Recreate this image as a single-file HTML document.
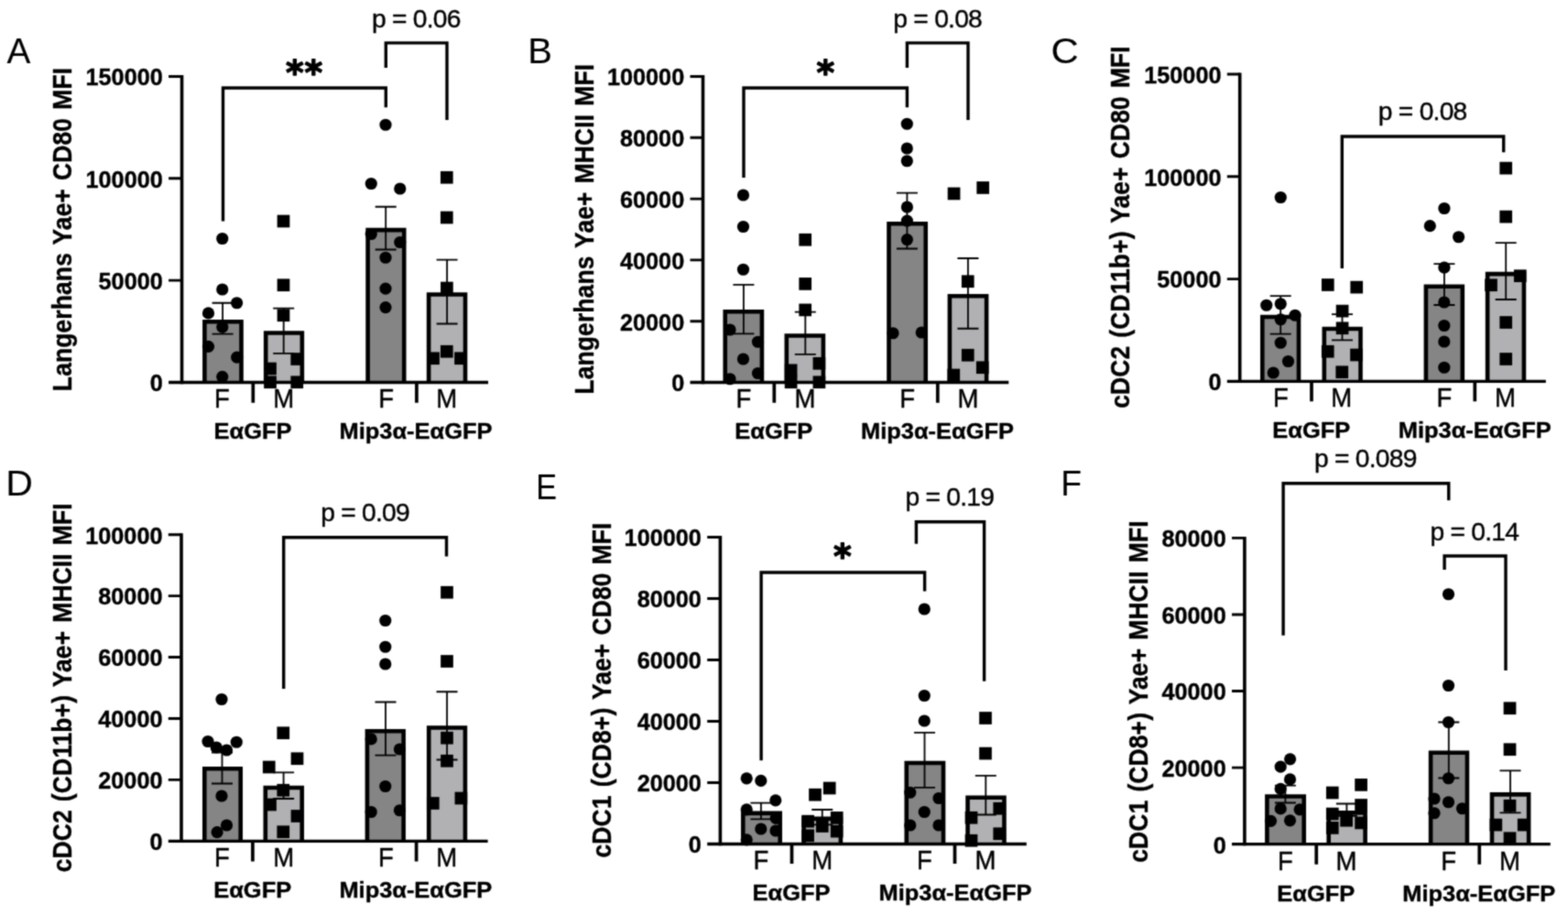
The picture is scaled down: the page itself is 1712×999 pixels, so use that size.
<!DOCTYPE html>
<html lang="en">
<head>
<meta charset="utf-8">
<title>Figure</title>
<style>
html,body{margin:0;padding:0;background:#fff;}
body{width:1712px;height:999px;overflow:hidden;}
svg{display:block;font-family:"Liberation Sans", Arial, Helvetica, sans-serif;fill:#000;}
text{stroke:#000;stroke-width:0.4px;stroke-linejoin:round;}
</style>
</head>
<body>
<svg width="1712" height="999" viewBox="0 0 1712 999">
<defs><filter id="soft" x="0" y="0" width="1712" height="999" filterUnits="userSpaceOnUse" color-interpolation-filters="sRGB"><feConvolveMatrix order="3" kernelMatrix="0.115 0.339 0.115 0.339 1 0.339 0.115 0.339 0.115" divisor="2.816" edgeMode="duplicate" preserveAlpha="true"/></filter></defs>
<g filter="url(#soft)">
<rect x="0" y="0" width="1712" height="999" fill="#fff"/>
<g>
<path d="M223.4 417.5V351.2H263.5V417.5" fill="#858585" stroke="#000" stroke-width="4.6" stroke-linejoin="miter"/>
<path d="M290.2 417.5V363.55H329.85V417.5" fill="#b1b1b3" stroke="#000" stroke-width="4.6" stroke-linejoin="miter"/>
<path d="M401.6 417.5V251.1H441.2V417.5" fill="#858585" stroke="#000" stroke-width="4.6" stroke-linejoin="miter"/>
<path d="M468.1 417.5V321.5H508V417.5" fill="#b1b1b3" stroke="#000" stroke-width="4.6" stroke-linejoin="miter"/>
<path d="M198.55 82V419.15" fill="none" stroke="#000" stroke-width="3.6"/>
<path d="M184.1 417.5H533" fill="none" stroke="#000" stroke-width="3.3"/>
<path d="M184.1 83.45H198.55M184.1 194.8H198.55M184.1 306.15H198.55" fill="none" stroke="#000" stroke-width="2.9"/>
<path d="M276.3 417.5V439.8M454.9 417.5V439.8" fill="none" stroke="#000" stroke-width="3.7"/>
<path d="M243.1 330.75V364.65M231.6 330.75H254.6M231.6 364.65H254.6M309.7 336.7V385.8M298.2 336.7H321.2M298.2 385.8H321.2M421.2 225.75V272.5M409.7 225.75H432.7M409.7 272.5H432.7M488.1 283.6V353.5M476.6 283.6H499.6M476.6 353.5H499.6" fill="none" stroke="#000" stroke-width="1.8"/>
<circle cx="242.75" cy="260.5" r="6.6"/>
<circle cx="242.75" cy="316" r="6.6"/>
<circle cx="258.6" cy="330.75" r="6.6"/>
<circle cx="227.5" cy="341.9" r="6.6"/>
<circle cx="242.8" cy="357.1" r="6.6"/>
<circle cx="227.5" cy="378.3" r="6.6"/>
<circle cx="258.7" cy="390.2" r="6.6"/>
<circle cx="242.75" cy="411.3" r="6.6"/>
<circle cx="421" cy="136.25" r="6.6"/>
<circle cx="405.25" cy="200.5" r="6.6"/>
<circle cx="436.75" cy="206" r="6.6"/>
<circle cx="405.25" cy="255.5" r="6.6"/>
<circle cx="436.75" cy="264.5" r="6.6"/>
<circle cx="421" cy="281.25" r="6.6"/>
<circle cx="421" cy="315.1" r="6.6"/>
<circle cx="421" cy="335.6" r="6.6"/>
<rect x="302.65" y="234.65" width="13.7" height="13.7"/>
<rect x="302.65" y="304.4" width="13.7" height="13.7"/>
<rect x="302.65" y="337.4" width="13.7" height="13.7"/>
<rect x="317.4" y="385.15" width="13.7" height="13.7"/>
<rect x="288.15" y="395.65" width="13.7" height="13.7"/>
<rect x="288.15" y="410.4" width="13.7" height="13.7"/>
<rect x="317.4" y="410.4" width="13.7" height="13.7"/>
<rect x="480.95" y="186.9" width="13.7" height="13.7"/>
<rect x="480.95" y="230.65" width="13.7" height="13.7"/>
<rect x="481.05" y="307.65" width="13.7" height="13.7"/>
<rect x="480.95" y="376.9" width="13.7" height="13.7"/>
<rect x="466.15" y="384.4" width="13.7" height="13.7"/>
<rect x="496.15" y="384.4" width="13.7" height="13.7"/>
<path d="M243.5 241.5V95.95H421.3V117.2M421.3 74V46.85H488V131" fill="none" stroke="#000" stroke-width="3.4" stroke-linejoin="miter"/>
<text transform="translate(177.8 93.25) scale(0.95 1)" text-anchor="end" font-weight="bold" font-size="26.6" letter-spacing="0.0">150000</text>
<text transform="translate(177.8 204.6) scale(0.95 1)" text-anchor="end" font-weight="bold" font-size="26.6" letter-spacing="0.0">100000</text>
<text transform="translate(177.8 315.95) scale(0.95 1)" text-anchor="end" font-weight="bold" font-size="26.6" letter-spacing="0.0">50000</text>
<text transform="translate(177.8 427.3) scale(0.95 1)" text-anchor="end" font-weight="bold" font-size="26.6" letter-spacing="0.0">0</text>
<text transform="translate(77.5 250.5) rotate(-90) scale(0.875 1)" text-anchor="middle" font-weight="bold" font-size="30.2" letter-spacing="0.16" word-spacing="1.8">Langerhans Yae+ CD80 MFI</text>
<text transform="translate(242.3 445.4) scale(0.94 1)" text-anchor="middle" font-size="29.3">F</text>
<text transform="translate(309.7 445.4) scale(0.94 1)" text-anchor="middle" font-size="29.3">M</text>
<text transform="translate(421.6 445.4) scale(0.94 1)" text-anchor="middle" font-size="29.3">F</text>
<text transform="translate(487.6 445.4) scale(0.94 1)" text-anchor="middle" font-size="29.3">M</text>
<text transform="translate(276 479.1) scale(1.042 1)" text-anchor="middle" font-weight="bold" font-size="24.4" letter-spacing="0.0">EαGFP</text>
<text transform="translate(454 479.1) scale(1.042 1)" text-anchor="middle" font-weight="bold" font-size="24.4" letter-spacing="0.0">Mip3α-EαGFP</text>
<text x="332.6" y="92" text-anchor="middle" font-family="DejaVu Sans, Liberation Sans, sans-serif" font-weight="bold" font-size="37.6" style="stroke-width:1.3px" letter-spacing="0.9">**</text>
<text x="454.35" y="29.9" text-anchor="middle" font-size="28.2" letter-spacing="-0.75">p = 0.06</text>
<text transform="translate(7.5 68.85) scale(1.02 1)" x="-0" y="0" font-size="38" style="stroke-width:0.1px">A</text>
</g>
<g>
<path d="M791.75 417.5V340.3H831.9V417.5" fill="#858585" stroke="#000" stroke-width="4.6" stroke-linejoin="miter"/>
<path d="M858.8 417.5V366.5H898.9V417.5" fill="#b1b1b3" stroke="#000" stroke-width="4.6" stroke-linejoin="miter"/>
<path d="M970.5 417.5V244.3H1010.7V417.5" fill="#858585" stroke="#000" stroke-width="4.6" stroke-linejoin="miter"/>
<path d="M1036.9 417.5V323.3H1077.1V417.5" fill="#b1b1b3" stroke="#000" stroke-width="4.6" stroke-linejoin="miter"/>
<path d="M767.5 82.05V419.15" fill="none" stroke="#000" stroke-width="3.6"/>
<path d="M753.5 417.5H1101.3" fill="none" stroke="#000" stroke-width="3.3"/>
<path d="M753.5 83.5H767.5M753.5 150.3H767.5M753.5 217.1H767.5M753.5 283.9H767.5M753.5 350.7H767.5" fill="none" stroke="#000" stroke-width="2.9"/>
<path d="M845.3 417.5V439.8M1023.8 417.5V439.8" fill="none" stroke="#000" stroke-width="3.7"/>
<path d="M811.9 310.8V364.4M800.4 310.8H823.4M800.4 364.4H823.4M879.3 340.6V386.9M867.8 340.6H890.8M867.8 386.9H890.8M990.4 210.65V271.5M978.9 210.65H1001.9M978.9 271.5H1001.9M1056.9 282V358.75M1045.4 282H1068.4M1045.4 358.75H1068.4" fill="none" stroke="#000" stroke-width="1.8"/>
<circle cx="811.5" cy="213" r="6.6"/>
<circle cx="811.5" cy="247.5" r="6.6"/>
<circle cx="811.5" cy="294.25" r="6.6"/>
<circle cx="797" cy="360" r="6.6"/>
<circle cx="827.5" cy="373.25" r="6.6"/>
<circle cx="811.5" cy="392" r="6.6"/>
<circle cx="827.5" cy="407.5" r="6.6"/>
<circle cx="797" cy="413.75" r="6.6"/>
<circle cx="990.3" cy="135.25" r="6.6"/>
<circle cx="990.3" cy="162" r="6.6"/>
<circle cx="990.3" cy="175.75" r="6.6"/>
<circle cx="990.4" cy="226" r="6.6"/>
<circle cx="990.4" cy="241.1" r="6.6"/>
<circle cx="990.4" cy="261.6" r="6.6"/>
<circle cx="975" cy="363.75" r="6.6"/>
<circle cx="1006.25" cy="363" r="6.6"/>
<rect x="872.35" y="254.9" width="13.7" height="13.7"/>
<rect x="872.35" y="303.05" width="13.7" height="13.7"/>
<rect x="872.35" y="331.55" width="13.7" height="13.7"/>
<rect x="887.55" y="389.95" width="13.7" height="13.7"/>
<rect x="856.75" y="397.45" width="13.7" height="13.7"/>
<rect x="856.75" y="410.4" width="13.7" height="13.7"/>
<rect x="887.55" y="410.4" width="13.7" height="13.7"/>
<rect x="1034.7" y="204.55" width="13.7" height="13.7"/>
<rect x="1066.35" y="198.1" width="13.7" height="13.7"/>
<rect x="1049.9" y="300.4" width="13.7" height="13.7"/>
<rect x="1049.9" y="380.9" width="13.7" height="13.7"/>
<rect x="1065.9" y="394.4" width="13.7" height="13.7"/>
<rect x="1034.4" y="402.65" width="13.7" height="13.7"/>
<path d="M812 194V96H990.4V117.2M990.4 74V46.85H1057V131" fill="none" stroke="#000" stroke-width="3.4" stroke-linejoin="miter"/>
<text transform="translate(747.2 93.3) scale(0.95 1)" text-anchor="end" font-weight="bold" font-size="26.6" letter-spacing="0.0">100000</text>
<text transform="translate(747.2 160.1) scale(0.95 1)" text-anchor="end" font-weight="bold" font-size="26.6" letter-spacing="0.0">80000</text>
<text transform="translate(747.2 226.9) scale(0.95 1)" text-anchor="end" font-weight="bold" font-size="26.6" letter-spacing="0.0">60000</text>
<text transform="translate(747.2 293.7) scale(0.95 1)" text-anchor="end" font-weight="bold" font-size="26.6" letter-spacing="0.0">40000</text>
<text transform="translate(747.2 360.5) scale(0.95 1)" text-anchor="end" font-weight="bold" font-size="26.6" letter-spacing="0.0">20000</text>
<text transform="translate(747.2 427.3) scale(0.95 1)" text-anchor="end" font-weight="bold" font-size="26.6" letter-spacing="0.0">0</text>
<text transform="translate(647.5 250.2) rotate(-90) scale(0.875 1)" text-anchor="middle" font-weight="bold" font-size="30.2" letter-spacing="0.16" word-spacing="1.8">Langerhans Yae+ MHCII MFI</text>
<text transform="translate(812 445.4) scale(0.94 1)" text-anchor="middle" font-size="29.3">F</text>
<text transform="translate(878.9 445.4) scale(0.94 1)" text-anchor="middle" font-size="29.3">M</text>
<text transform="translate(990.6 445.4) scale(0.94 1)" text-anchor="middle" font-size="29.3">F</text>
<text transform="translate(1056.9 445.4) scale(0.94 1)" text-anchor="middle" font-size="29.3">M</text>
<text transform="translate(844.75 479.1) scale(1.042 1)" text-anchor="middle" font-weight="bold" font-size="24.4" letter-spacing="0.0">EαGFP</text>
<text transform="translate(1023.5 479.1) scale(1.042 1)" text-anchor="middle" font-weight="bold" font-size="24.4" letter-spacing="0.0">Mip3α-EαGFP</text>
<text x="901.7" y="91.6" text-anchor="middle" font-family="DejaVu Sans, Liberation Sans, sans-serif" font-weight="bold" font-size="37.6" style="stroke-width:1.3px" letter-spacing="0.9">*</text>
<text x="1023.7" y="29.9" text-anchor="middle" font-size="28.2" letter-spacing="-0.75">p = 0.08</text>
<text transform="translate(579.25 68.6) scale(1.05 1)" x="-2.9" y="0" font-size="38" style="stroke-width:0.1px">B</text>
</g>
<g>
<path d="M1378.3 416.45V346.05H1418V416.45" fill="#858585" stroke="#000" stroke-width="4.6" stroke-linejoin="miter"/>
<path d="M1445.8 416.45V359.05H1485.5V416.45" fill="#b1b1b3" stroke="#000" stroke-width="4.6" stroke-linejoin="miter"/>
<path d="M1556.9 416.45V312.8H1596.8V416.45" fill="#858585" stroke="#000" stroke-width="4.6" stroke-linejoin="miter"/>
<path d="M1624.1 416.45V299.1H1663.9V416.45" fill="#b1b1b3" stroke="#000" stroke-width="4.6" stroke-linejoin="miter"/>
<path d="M1353.7 79.5V418.1" fill="none" stroke="#000" stroke-width="3.6"/>
<path d="M1339.8 416.45H1687.8" fill="none" stroke="#000" stroke-width="3.3"/>
<path d="M1339.8 80.95H1353.7M1339.8 192.78H1353.7M1339.8 304.62H1353.7" fill="none" stroke="#000" stroke-width="2.9"/>
<path d="M1432 416.45V438.2M1610.3 416.45V438.2" fill="none" stroke="#000" stroke-width="3.7"/>
<path d="M1398.2 323.2V364.65M1386.7 323.2H1409.7M1386.7 364.65H1409.7M1465.5 343.2V371.3M1454 343.2H1477M1454 371.3H1477M1576.9 288.1V333M1565.4 288.1H1588.4M1565.4 333H1588.4M1644.2 265.2V327M1632.7 265.2H1655.7M1632.7 327H1655.7" fill="none" stroke="#000" stroke-width="1.8"/>
<circle cx="1398.25" cy="215.5" r="6.6"/>
<circle cx="1382.75" cy="333.25" r="6.6"/>
<circle cx="1398.25" cy="331.75" r="6.6"/>
<circle cx="1414" cy="344.25" r="6.6"/>
<circle cx="1398.25" cy="348.75" r="6.6"/>
<circle cx="1398.25" cy="374.25" r="6.6"/>
<circle cx="1406.5" cy="394.5" r="6.6"/>
<circle cx="1390.25" cy="407" r="6.6"/>
<circle cx="1576.9" cy="227.5" r="6.6"/>
<circle cx="1561.3" cy="246.7" r="6.6"/>
<circle cx="1592.6" cy="258.75" r="6.6"/>
<circle cx="1576.9" cy="292.2" r="6.6"/>
<circle cx="1576.8" cy="330" r="6.6"/>
<circle cx="1576.8" cy="355.5" r="6.6"/>
<circle cx="1576.8" cy="373" r="6.6"/>
<circle cx="1576.8" cy="401.25" r="6.6"/>
<rect x="1442.95" y="304.15" width="13.7" height="13.7"/>
<rect x="1474.35" y="306.75" width="13.7" height="13.7"/>
<rect x="1458.75" y="332.75" width="13.7" height="13.7"/>
<rect x="1458.75" y="351.45" width="13.7" height="13.7"/>
<rect x="1442.9" y="376.9" width="13.7" height="13.7"/>
<rect x="1474.15" y="380.65" width="13.7" height="13.7"/>
<rect x="1458.4" y="399.4" width="13.7" height="13.7"/>
<rect x="1637.35" y="176.75" width="13.7" height="13.7"/>
<rect x="1637.35" y="229.75" width="13.7" height="13.7"/>
<rect x="1652.95" y="294.35" width="13.7" height="13.7"/>
<rect x="1621.15" y="304.4" width="13.7" height="13.7"/>
<rect x="1637.35" y="345.15" width="13.7" height="13.7"/>
<rect x="1637.35" y="385.15" width="13.7" height="13.7"/>
<path d="M1465.3 293V149H1641.7V166.3" fill="none" stroke="#000" stroke-width="3.4" stroke-linejoin="miter"/>
<text transform="translate(1333.5 90.75) scale(0.95 1)" text-anchor="end" font-weight="bold" font-size="26.6" letter-spacing="0.0">150000</text>
<text transform="translate(1333.5 202.58) scale(0.95 1)" text-anchor="end" font-weight="bold" font-size="26.6" letter-spacing="0.0">100000</text>
<text transform="translate(1333.5 314.42) scale(0.95 1)" text-anchor="end" font-weight="bold" font-size="26.6" letter-spacing="0.0">50000</text>
<text transform="translate(1333.5 426.25) scale(0.95 1)" text-anchor="end" font-weight="bold" font-size="26.6" letter-spacing="0.0">0</text>
<text transform="translate(1232.5 248) rotate(-90) scale(0.875 1)" text-anchor="middle" font-weight="bold" font-size="30.2" letter-spacing="0.16" word-spacing="1.8">cDC2 (CD11b+) Yae+ CD80 MFI</text>
<text transform="translate(1398.4 443.7) scale(0.94 1)" text-anchor="middle" font-size="29.3">F</text>
<text transform="translate(1464.7 443.7) scale(0.94 1)" text-anchor="middle" font-size="29.3">M</text>
<text transform="translate(1577 443.7) scale(0.94 1)" text-anchor="middle" font-size="29.3">F</text>
<text transform="translate(1643.4 443.7) scale(0.94 1)" text-anchor="middle" font-size="29.3">M</text>
<text transform="translate(1431.75 477.6) scale(1.042 1)" text-anchor="middle" font-weight="bold" font-size="24.4" letter-spacing="0.0">EαGFP</text>
<text transform="translate(1610.25 477.6) scale(1.042 1)" text-anchor="middle" font-weight="bold" font-size="24.4" letter-spacing="0.0">Mip3α-EαGFP</text>
<text x="1553.2" y="131.15" text-anchor="middle" font-size="28.2" letter-spacing="-0.75">p = 0.08</text>
<text transform="translate(1149.5 68.85) scale(1.1 1)" x="-1.8" y="0" font-size="38" style="stroke-width:0.1px">C</text>
</g>
<g>
<path d="M223.3 918.3V839.3H262.7V918.3" fill="#858585" stroke="#000" stroke-width="4.6" stroke-linejoin="miter"/>
<path d="M289.8 918.3V860.05H329.7V918.3" fill="#b1b1b3" stroke="#000" stroke-width="4.6" stroke-linejoin="miter"/>
<path d="M400.9 918.3V798.3H440.6V918.3" fill="#858585" stroke="#000" stroke-width="4.6" stroke-linejoin="miter"/>
<path d="M468.2 918.3V794.5H507.9V918.3" fill="#b1b1b3" stroke="#000" stroke-width="4.6" stroke-linejoin="miter"/>
<path d="M198 582.25V919.95" fill="none" stroke="#000" stroke-width="3.6"/>
<path d="M183.8 918.3H532.6" fill="none" stroke="#000" stroke-width="3.3"/>
<path d="M183.8 583.7H198M183.8 650.62H198M183.8 717.54H198M183.8 784.46H198M183.8 851.38H198" fill="none" stroke="#000" stroke-width="2.9"/>
<path d="M275.9 918.3V940.5M454.6 918.3V940.5" fill="none" stroke="#000" stroke-width="3.7"/>
<path d="M242.5 821.5V855.5M231 821.5H254M231 855.5H254M309.6 843.3V872M298.1 843.3H321.1M298.1 872H321.1M421 766.5V824.6M409.5 766.5H432.5M409.5 824.6H432.5M488.05 755.25V829.5M476.55 755.25H499.55M476.55 829.5H499.55" fill="none" stroke="#000" stroke-width="1.8"/>
<circle cx="242" cy="763.5" r="6.6"/>
<circle cx="227" cy="809.5" r="6.6"/>
<circle cx="258.25" cy="810.25" r="6.6"/>
<circle cx="236.25" cy="816" r="6.6"/>
<circle cx="247.5" cy="819" r="6.6"/>
<circle cx="242" cy="869" r="6.6"/>
<circle cx="247.5" cy="901" r="6.6"/>
<circle cx="237.1" cy="908.7" r="6.6"/>
<circle cx="420.75" cy="677.5" r="6.6"/>
<circle cx="420.75" cy="706.25" r="6.6"/>
<circle cx="420.75" cy="725" r="6.6"/>
<circle cx="405.2" cy="806.95" r="6.6"/>
<circle cx="436.4" cy="818" r="6.6"/>
<circle cx="420.75" cy="858.5" r="6.6"/>
<circle cx="405.2" cy="886.5" r="6.6"/>
<circle cx="436.4" cy="884.75" r="6.6"/>
<rect x="302.4" y="793.4" width="13.7" height="13.7"/>
<rect x="317.65" y="821.4" width="13.7" height="13.7"/>
<rect x="286.9" y="830.65" width="13.7" height="13.7"/>
<rect x="302.4" y="855.9" width="13.7" height="13.7"/>
<rect x="288.15" y="871.65" width="13.7" height="13.7"/>
<rect x="317.65" y="884.15" width="13.7" height="13.7"/>
<rect x="302.4" y="901.4" width="13.7" height="13.7"/>
<rect x="481.15" y="639.9" width="13.7" height="13.7"/>
<rect x="481.15" y="715.15" width="13.7" height="13.7"/>
<rect x="481.15" y="798.85" width="13.7" height="13.7"/>
<rect x="481.15" y="823.9" width="13.7" height="13.7"/>
<rect x="496.55" y="864.65" width="13.7" height="13.7"/>
<rect x="465.95" y="870.15" width="13.7" height="13.7"/>
<path d="M309.7 752V586.75H487.5V607.5" fill="none" stroke="#000" stroke-width="3.4" stroke-linejoin="miter"/>
<text transform="translate(177.5 593.5) scale(0.95 1)" text-anchor="end" font-weight="bold" font-size="26.6" letter-spacing="0.0">100000</text>
<text transform="translate(177.5 660.42) scale(0.95 1)" text-anchor="end" font-weight="bold" font-size="26.6" letter-spacing="0.0">80000</text>
<text transform="translate(177.5 727.34) scale(0.95 1)" text-anchor="end" font-weight="bold" font-size="26.6" letter-spacing="0.0">60000</text>
<text transform="translate(177.5 794.26) scale(0.95 1)" text-anchor="end" font-weight="bold" font-size="26.6" letter-spacing="0.0">40000</text>
<text transform="translate(177.5 861.18) scale(0.95 1)" text-anchor="end" font-weight="bold" font-size="26.6" letter-spacing="0.0">20000</text>
<text transform="translate(177.5 928.1) scale(0.95 1)" text-anchor="end" font-weight="bold" font-size="26.6" letter-spacing="0.0">0</text>
<text transform="translate(77.5 750.8) rotate(-90) scale(0.875 1)" text-anchor="middle" font-weight="bold" font-size="30.2" letter-spacing="0.16" word-spacing="1.8">cDC2 (CD11b+) Yae+ MHCII MFI</text>
<text transform="translate(242.3 946.2) scale(0.94 1)" text-anchor="middle" font-size="29.3">F</text>
<text transform="translate(309.7 946.2) scale(0.94 1)" text-anchor="middle" font-size="29.3">M</text>
<text transform="translate(421.4 946.2) scale(0.94 1)" text-anchor="middle" font-size="29.3">F</text>
<text transform="translate(487.6 946.2) scale(0.94 1)" text-anchor="middle" font-size="29.3">M</text>
<text transform="translate(275.7 980) scale(1.042 1)" text-anchor="middle" font-weight="bold" font-size="24.4" letter-spacing="0.0">EαGFP</text>
<text transform="translate(453.8 980) scale(1.042 1)" text-anchor="middle" font-weight="bold" font-size="24.4" letter-spacing="0.0">Mip3α-EαGFP</text>
<text x="398.5" y="568.65" text-anchor="middle" font-size="28.2" letter-spacing="-0.75">p = 0.09</text>
<text transform="translate(9.5 540.85) scale(1.08 1)" x="-2.9" y="0" font-size="38" style="stroke-width:0.1px">D</text>
</g>
<g>
<path d="M811.3 921.5V887.9H851.7V921.5" fill="#858585" stroke="#000" stroke-width="4.6" stroke-linejoin="miter"/>
<path d="M877.6 921.5V893.9H917.9V921.5" fill="#b1b1b3" stroke="#000" stroke-width="4.6" stroke-linejoin="miter"/>
<path d="M989.75 921.5V833H1030V921.5" fill="#858585" stroke="#000" stroke-width="4.6" stroke-linejoin="miter"/>
<path d="M1056.55 921.5V870.8H1096.45V921.5" fill="#b1b1b3" stroke="#000" stroke-width="4.6" stroke-linejoin="miter"/>
<path d="M786.4 585V923.15" fill="none" stroke="#000" stroke-width="3.6"/>
<path d="M772.2 921.5H1120.8" fill="none" stroke="#000" stroke-width="3.3"/>
<path d="M772.2 586.45H786.4M772.2 653.46H786.4M772.2 720.47H786.4M772.2 787.48H786.4M772.2 854.49H786.4" fill="none" stroke="#000" stroke-width="2.9"/>
<path d="M864.5 921.5V943M1042.5 921.5V943" fill="none" stroke="#000" stroke-width="3.7"/>
<path d="M830.9 876.7V894.3M819.4 876.7H842.4M819.4 894.3H842.4M897.75 884V900.4M886.25 884H909.25M886.25 900.4H909.25M1009.5 799.9V859.8M998 799.9H1021M998 859.8H1021M1076.3 846.9V889.5M1064.8 846.9H1087.8M1064.8 889.5H1087.8" fill="none" stroke="#000" stroke-width="1.8"/>
<circle cx="815.2" cy="849.8" r="6.6"/>
<circle cx="830.8" cy="852.4" r="6.6"/>
<circle cx="846.8" cy="873.8" r="6.6"/>
<circle cx="815.2" cy="883.9" r="6.6"/>
<circle cx="847.2" cy="893.3" r="6.6"/>
<circle cx="830.8" cy="905" r="6.6"/>
<circle cx="847" cy="907" r="6.6"/>
<circle cx="815.2" cy="916.8" r="6.6"/>
<circle cx="1009.25" cy="665" r="6.6"/>
<circle cx="1009.25" cy="759.5" r="6.6"/>
<circle cx="1009.25" cy="787" r="6.6"/>
<circle cx="993.75" cy="865.25" r="6.6"/>
<circle cx="1025" cy="871.5" r="6.6"/>
<circle cx="1009.25" cy="886.5" r="6.6"/>
<circle cx="993.75" cy="901" r="6.6"/>
<circle cx="1025" cy="901" r="6.6"/>
<rect x="883.15" y="860.85" width="13.7" height="13.7"/>
<rect x="898.85" y="853.65" width="13.7" height="13.7"/>
<rect x="906.85" y="886.05" width="13.7" height="13.7"/>
<rect x="875.25" y="889.85" width="13.7" height="13.7"/>
<rect x="890.9" y="895.15" width="13.7" height="13.7"/>
<rect x="875.25" y="905.45" width="13.7" height="13.7"/>
<rect x="906.85" y="900.75" width="13.7" height="13.7"/>
<rect x="1069.15" y="777.15" width="13.7" height="13.7"/>
<rect x="1069.15" y="815.75" width="13.7" height="13.7"/>
<rect x="1084.4" y="875.9" width="13.7" height="13.7"/>
<rect x="1053.65" y="885.9" width="13.7" height="13.7"/>
<rect x="1084.4" y="903.4" width="13.7" height="13.7"/>
<rect x="1053.65" y="910.9" width="13.7" height="13.7"/>
<path d="M831.1 830.25V625H1009.6V645.5M1000.4 593.75V569.8H1074.6V743.75" fill="none" stroke="#000" stroke-width="3.4" stroke-linejoin="miter"/>
<text transform="translate(765.9 596.25) scale(0.95 1)" text-anchor="end" font-weight="bold" font-size="26.6" letter-spacing="0.0">100000</text>
<text transform="translate(765.9 663.26) scale(0.95 1)" text-anchor="end" font-weight="bold" font-size="26.6" letter-spacing="0.0">80000</text>
<text transform="translate(765.9 730.27) scale(0.95 1)" text-anchor="end" font-weight="bold" font-size="26.6" letter-spacing="0.0">60000</text>
<text transform="translate(765.9 797.28) scale(0.95 1)" text-anchor="end" font-weight="bold" font-size="26.6" letter-spacing="0.0">40000</text>
<text transform="translate(765.9 864.29) scale(0.95 1)" text-anchor="end" font-weight="bold" font-size="26.6" letter-spacing="0.0">20000</text>
<text transform="translate(765.9 931.3) scale(0.95 1)" text-anchor="end" font-weight="bold" font-size="26.6" letter-spacing="0.0">0</text>
<text transform="translate(666.5 753.5) rotate(-90) scale(0.875 1)" text-anchor="middle" font-weight="bold" font-size="30.2" letter-spacing="0.16" word-spacing="1.8">cDC1 (CD8+) Yae+ CD80 MFI</text>
<text transform="translate(830.8 949.4) scale(0.94 1)" text-anchor="middle" font-size="29.3">F</text>
<text transform="translate(897.7 949.4) scale(0.94 1)" text-anchor="middle" font-size="29.3">M</text>
<text transform="translate(1009.5 949.4) scale(0.94 1)" text-anchor="middle" font-size="29.3">F</text>
<text transform="translate(1075.9 949.4) scale(0.94 1)" text-anchor="middle" font-size="29.3">M</text>
<text transform="translate(864 983) scale(1.042 1)" text-anchor="middle" font-weight="bold" font-size="24.4" letter-spacing="0.0">EαGFP</text>
<text transform="translate(1043 983) scale(1.042 1)" text-anchor="middle" font-weight="bold" font-size="24.4" letter-spacing="0.0">Mip3α-EαGFP</text>
<text x="920.4" y="620.3" text-anchor="middle" font-family="DejaVu Sans, Liberation Sans, sans-serif" font-weight="bold" font-size="37.6" style="stroke-width:1.3px" letter-spacing="0.9">*</text>
<text x="1036.8" y="552.4" text-anchor="middle" font-size="28.2" letter-spacing="-0.75">p = 0.19</text>
<text transform="translate(588 544.6) scale(0.9 1)" x="-3" y="0" font-size="38" style="stroke-width:0.1px">E</text>
</g>
<g>
<path d="M1383.4 921.7V869.5H1423.7V921.7" fill="#858585" stroke="#000" stroke-width="4.6" stroke-linejoin="miter"/>
<path d="M1450.7 921.7V887.4H1490.6V921.7" fill="#b1b1b3" stroke="#000" stroke-width="4.6" stroke-linejoin="miter"/>
<path d="M1562.1 921.7V821.8H1601.9V921.7" fill="#858585" stroke="#000" stroke-width="4.6" stroke-linejoin="miter"/>
<path d="M1629 921.7V867.4H1669.1V921.7" fill="#b1b1b3" stroke="#000" stroke-width="4.6" stroke-linejoin="miter"/>
<path d="M1358.9 585.95V923.35" fill="none" stroke="#000" stroke-width="3.6"/>
<path d="M1345 921.7H1692.8" fill="none" stroke="#000" stroke-width="3.3"/>
<path d="M1345 587.4H1358.9M1345 670.98H1358.9M1345 754.55H1358.9M1345 838.12H1358.9" fill="none" stroke="#000" stroke-width="2.9"/>
<path d="M1437.25 921.7V943.7M1615.25 921.7V943.7" fill="none" stroke="#000" stroke-width="3.7"/>
<path d="M1403.4 857.6V876.5M1391.9 857.6H1414.9M1391.9 876.5H1414.9M1470.4 877.5V890.8M1458.9 877.5H1481.9M1458.9 890.8H1481.9M1581.8 788.5V849.5M1570.3 788.5H1593.3M1570.3 849.5H1593.3M1649 841.3V887.3M1637.5 841.3H1660.5M1637.5 887.3H1660.5" fill="none" stroke="#000" stroke-width="1.8"/>
<circle cx="1408.6" cy="828.8" r="6.6"/>
<circle cx="1398.2" cy="837.1" r="6.6"/>
<circle cx="1408.5" cy="850.9" r="6.6"/>
<circle cx="1398.2" cy="861.4" r="6.6"/>
<circle cx="1398.2" cy="882.9" r="6.6"/>
<circle cx="1419.1" cy="883.8" r="6.6"/>
<circle cx="1387.5" cy="896.3" r="6.6"/>
<circle cx="1408.5" cy="895.8" r="6.6"/>
<circle cx="1581.5" cy="648.75" r="6.6"/>
<circle cx="1581.5" cy="748.5" r="6.6"/>
<circle cx="1581.5" cy="788.5" r="6.6"/>
<circle cx="1581.5" cy="849.75" r="6.6"/>
<circle cx="1566" cy="872" r="6.6"/>
<circle cx="1581.5" cy="875.75" r="6.6"/>
<circle cx="1596.5" cy="882.75" r="6.6"/>
<circle cx="1566" cy="887.75" r="6.6"/>
<rect x="1447.95" y="858.65" width="13.7" height="13.7"/>
<rect x="1479.25" y="850.05" width="13.7" height="13.7"/>
<rect x="1479.25" y="872.15" width="13.7" height="13.7"/>
<rect x="1447.95" y="881.75" width="13.7" height="13.7"/>
<rect x="1463.25" y="888.9" width="13.7" height="13.7"/>
<rect x="1479.25" y="891.55" width="13.7" height="13.7"/>
<rect x="1447.95" y="897.05" width="13.7" height="13.7"/>
<rect x="1641.65" y="766.4" width="13.7" height="13.7"/>
<rect x="1641.65" y="811.4" width="13.7" height="13.7"/>
<rect x="1641.65" y="872.9" width="13.7" height="13.7"/>
<rect x="1626.45" y="893.75" width="13.7" height="13.7"/>
<rect x="1656.85" y="893.75" width="13.7" height="13.7"/>
<rect x="1641.65" y="908.4" width="13.7" height="13.7"/>
<path d="M1401.1 693.75V527.8H1581.75V546.2M1577.1 622.1V606.95H1644V732" fill="none" stroke="#000" stroke-width="3.4" stroke-linejoin="miter"/>
<text transform="translate(1338.7 597.2) scale(0.95 1)" text-anchor="end" font-weight="bold" font-size="26.6" letter-spacing="0.0">80000</text>
<text transform="translate(1338.7 680.78) scale(0.95 1)" text-anchor="end" font-weight="bold" font-size="26.6" letter-spacing="0.0">60000</text>
<text transform="translate(1338.7 764.35) scale(0.95 1)" text-anchor="end" font-weight="bold" font-size="26.6" letter-spacing="0.0">40000</text>
<text transform="translate(1338.7 847.92) scale(0.95 1)" text-anchor="end" font-weight="bold" font-size="26.6" letter-spacing="0.0">20000</text>
<text transform="translate(1338.7 931.5) scale(0.95 1)" text-anchor="end" font-weight="bold" font-size="26.6" letter-spacing="0.0">0</text>
<text transform="translate(1252.8 755) rotate(-90) scale(0.875 1)" text-anchor="middle" font-weight="bold" font-size="30.2" letter-spacing="0.16" word-spacing="1.8">cDC1 (CD8+) Yae+ MHCII MFI</text>
<text transform="translate(1403.4 950) scale(0.94 1)" text-anchor="middle" font-size="29.3">F</text>
<text transform="translate(1469.9 950) scale(0.94 1)" text-anchor="middle" font-size="29.3">M</text>
<text transform="translate(1581.6 950) scale(0.94 1)" text-anchor="middle" font-size="29.3">F</text>
<text transform="translate(1648.4 950) scale(0.94 1)" text-anchor="middle" font-size="29.3">M</text>
<text transform="translate(1436.75 983.6) scale(1.042 1)" text-anchor="middle" font-weight="bold" font-size="24.4" letter-spacing="0.0">EαGFP</text>
<text transform="translate(1614.75 983.6) scale(1.042 1)" text-anchor="middle" font-weight="bold" font-size="24.4" letter-spacing="0.0">Mip3α-EαGFP</text>
<text x="1490.85" y="509.9" text-anchor="middle" font-size="28.2" letter-spacing="-0.75">p = 0.089</text>
<text x="1609.85" y="589.9" text-anchor="middle" font-size="28.2" letter-spacing="-0.75">p = 0.14</text>
<text transform="translate(1161.25 540.6) scale(0.98 1)" x="-3" y="0" font-size="38" style="stroke-width:0.1px">F</text>
</g>
</g>
</svg>
</body>
</html>
